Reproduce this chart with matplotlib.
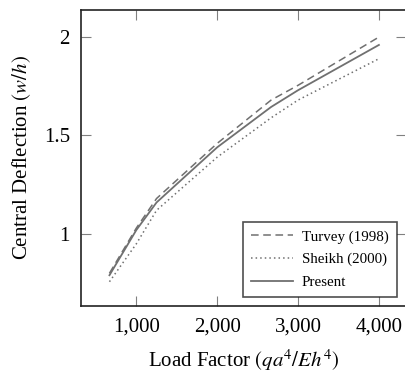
import numpy as np
import matplotlib
matplotlib.use("Agg")
from matplotlib import pyplot as plt
from matplotlib.ticker import FuncFormatter

# load factor values
load = [667, 1000, 1250, 2000, 2667, 3000, 4000]
turvey = [0.80, 1.03, 1.18, 1.46, 1.68, 1.755, 2.00]
sheikh = [0.757, 0.95, 1.12, 1.39, 1.59, 1.68, 1.89]
present = [0.79, 1.02, 1.16, 1.44, 1.645, 1.73, 1.96]

xticks = [1000, 2000, 3000, 4000]
yticks = [1, 1.5, 2]

plt.rcParams["font.family"] = ["Liberation Serif", "DejaVu Serif"]
plt.rcParams["mathtext.fontset"] = "stix"

fig = plt.figure(figsize=(4.06, 3.81), dpi=100)
ax = fig.add_axes([0.1995, 0.197, 0.8005, 0.777])

col = "#707070"
ax.plot(load, turvey, color=col, lw=1.1, ls=(0, (5, 3)), label="Turvey (1998)")
ax.plot(load, sheikh, color=col, lw=1.1, ls=(0, (1, 2)), label="Sheikh (2000)")
ax.plot(load, present, color=col, lw=1.3, ls="-", label="Present")

ax.set_xlim(315, 4335)
ax.set_ylim(0.634, 2.138)
ax.set_xticks(xticks)
ax.set_yticks(yticks)
ax.xaxis.set_major_formatter(FuncFormatter(lambda v, p: f"{int(v):,}"))
ax.yaxis.set_major_formatter(FuncFormatter(lambda v, p: f"{v:g}"))
ax.tick_params(direction="in", length=7, width=0.8, color="#808080",
               top=True, right=True, labelsize=15, pad=8)
for s in ax.spines.values():
    s.set_linewidth(1.2)
    s.set_color("#222222")

ax.set_xlabel(r"Load Factor $(qa^4/Eh^4)$", fontsize=15, labelpad=8)
ax.set_ylabel(r"Central Deflection $(w/h)$", fontsize=15, labelpad=8)

leg = ax.legend(loc="lower right", bbox_to_anchor=(0.972, 0.03), fontsize=10.8,
                frameon=True, fancybox=False, handlelength=2.8,
                borderpad=0.55, labelspacing=0.6, handletextpad=0.6,
                borderaxespad=0)
leg.get_frame().set_edgecolor("#222222")
leg.get_frame().set_linewidth(1.2)

fig.savefig("out.png", dpi=100)
